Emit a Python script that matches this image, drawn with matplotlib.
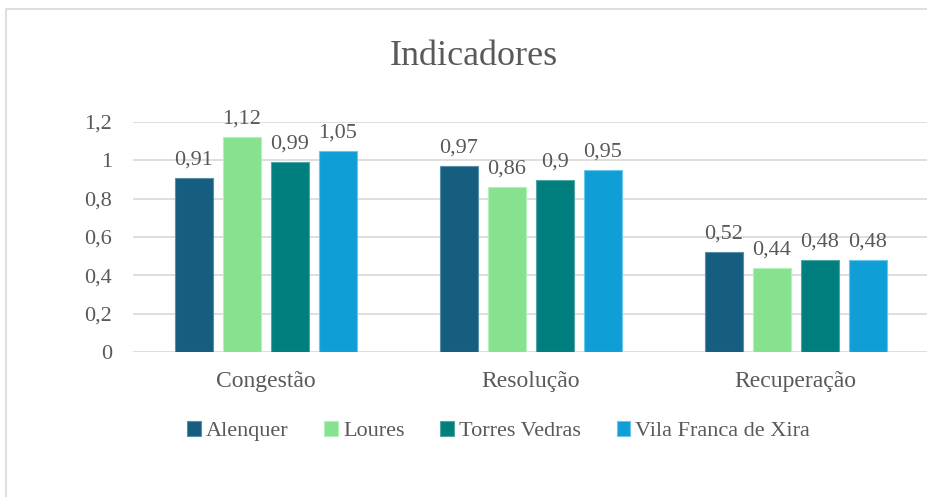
import numpy as np
import matplotlib.pyplot as plt
from matplotlib.patches import Rectangle

plt.rcParams['font.family'] = ['Liberation Serif', 'DejaVu Serif']

categories = ['Congestão', 'Resolução', 'Recuperação']
series = ['Alenquer', 'Loures', 'Torres Vedras', 'Vila Franca de Xira']
values = {
    'Alenquer': [0.91, 0.97, 0.52],
    'Loures': [1.12, 0.86, 0.44],
    'Torres Vedras': [0.99, 0.90, 0.48],
    'Vila Franca de Xira': [1.05, 0.95, 0.48],
}
colors = ['#155E80', '#86E28F', '#007F7E', '#109ED6']
edges = ['#5a8fa8', '#b5efba', '#4fa6a5', '#6cc6ea']
yticks = [0, 0.2, 0.4, 0.6, 0.8, 1.0, 1.2]

txt = '#595959'

fig = plt.figure(figsize=(9.27, 4.97), dpi=100)
ax = fig.add_axes([0.1435, 0.2918, 0.858, 0.4627])

x = np.arange(len(categories))
step = 0.181
width = 0.143
for i, s in enumerate(series):
    pos = x + (i - 1.5) * step
    bars = ax.bar(pos, values[s], width, color=colors[i], edgecolor=edges[i],
                  linewidth=0.8, label=s, zorder=3)
    for b, v in zip(bars, values[s]):
        lab = f'{v:g}'.replace('.', ',')
        ax.annotate(lab, (b.get_x() + b.get_width() / 2, v), xytext=(0, 6),
                    textcoords='offset points', ha='center', va='bottom',
                    fontsize=16, color=txt)

ax.set_xlim(-0.5, 2.5)
ax.set_ylim(0, 1.2)
ax.set_yticks(yticks)
ax.set_yticklabels([f'{t:g}'.replace('.', ',') for t in yticks])
ax.set_xticks(x)
ax.set_xticklabels(categories)
ax.tick_params(axis='both', length=0, labelsize=16, colors=txt)
ax.tick_params(axis='y', pad=15)
ax.tick_params(axis='x', pad=14)
for lbl in ax.get_xticklabels():
    lbl.set_fontsize(17)
ax.grid(axis='y', color='#d9d9d9', linewidth=1.2, zorder=0)
for sp in ax.spines.values():
    sp.set_visible(False)

fig.suptitle('Indicadores', x=0.511, y=0.92, fontsize=26, color=txt)

leg = fig.legend(loc='center', bbox_to_anchor=(0.538, 0.132), ncol=4, frameon=False,
                 fontsize=16, handlelength=0.6, handleheight=0.6,
                 handletextpad=0.25, columnspacing=1.6)
for t in leg.get_texts():
    t.set_color(txt)

fig.patches.append(Rectangle((6 / 927, -0.1), 1.1, 1.1 - 9 / 497, transform=fig.transFigure,
                             fill=False, edgecolor='#d9d9d9', linewidth=1.2))

fig.savefig('out.png', dpi=100)
